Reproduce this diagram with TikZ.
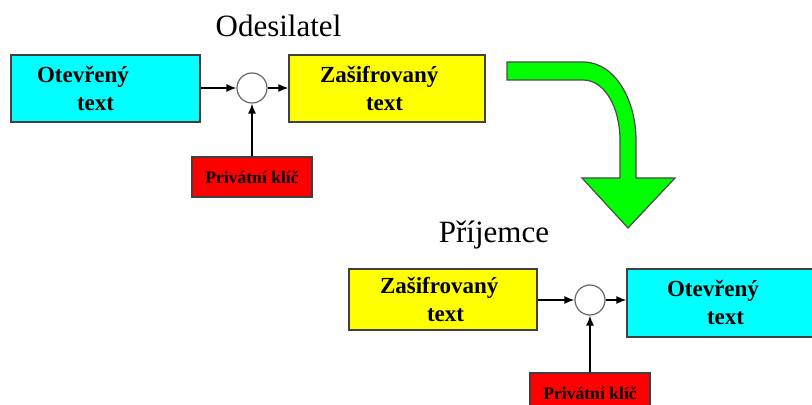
\documentclass[tikz,border=0pt]{standalone}
\usepackage{fontspec}
\setmainfont{Liberation Serif}
\usetikzlibrary{arrows.meta}

\definecolor{plaincyan}{RGB}{0,255,255}
\definecolor{codeyellow}{RGB}{255,255,0}
\definecolor{keyred}{RGB}{255,0,0}
\definecolor{flowgreen}{RGB}{0,255,0}

\begin{document}
\begin{tikzpicture}[x=0.5pt,y=-0.5pt,
  box/.style={draw=black!75, line width=0.6pt, minimum height=33.5pt, inner ysep=0pt, align=left, font=\fontsize{11.5}{14}\selectfont\bfseries},
  keybox/.style={draw=black!75, line width=0.6pt, fill=keyred, minimum width=60pt, minimum height=20pt, inner sep=0pt, font=\fontsize{8.8}{10}\selectfont\bfseries},
  mix/.style={circle, draw=black!60, line width=0.6pt, fill=white, minimum size=15pt, inner sep=0pt},
  title/.style={anchor=base, font=\fontsize{15.5}{18}\selectfont},
  link/.style={line width=0.75pt, -{Latex[length=5pt,width=4pt]}}]

\useasboundingbox (0,0) rectangle (812,405);

%sender
\node [title] (odes) at (278.5,37) {Odesilatel};

\node [box, fill=plaincyan, inner xsep=13pt, text width=68.5pt] (ot1) at (105.5,88.5) {Otevřený\\\hspace*{20pt}text};
\node [mix] (s1) at (252,88) {};
\node [box, fill=codeyellow, inner xsep=15.5pt, text width=67pt] (za1) at (387,88.5) {Zašifrovaný\\\hspace*{23pt}text};
\node [keybox] (pk1) at (252,177) {Privátní klíč};

\draw [link] (s1 -| ot1.east) -- (s1);
\draw [link] (s1) -- (s1 -| za1.west);
\draw [link] (pk1) -- (s1);

%the big bent arrow
\filldraw [fill=flowgreen, draw=black!70, line width=0.6pt] (507,62) -- (583,62) .. controls (615,62) and (636,100) .. (636,140) -- (636,178) -- (675,178) -- (628,228) -- (582,178) -- (620,178) -- (620,140) .. controls (620,108) and (605,80) .. (583,80) -- (507,80) -- cycle;

%receiver
\node [title] (prij) at (494,243) {Příjemce};

\node [box, fill=codeyellow, minimum height=30.5pt, inner xsep=15.5pt, text width=63pt] (za2) at (443,299.5) {Zašifrovaný\\\hspace*{23.5pt}text};
\node [mix] (s2) at (590,300) {};
\node [box, fill=plaincyan, minimum height=34pt, inner xsep=20pt, text width=54.5pt] (ot2) at (721.5,303) {Otevřený\\\hspace*{20pt}text};
\node [keybox] (pk2) at (590,393) {Privátní klíč};

\draw [link] (s2 -| za2.east) -- (s2);
\draw [link] (s2) -- (s2 -| ot2.west);
\draw [link] (pk2) -- (s2);

\end{tikzpicture}
\end{document}
